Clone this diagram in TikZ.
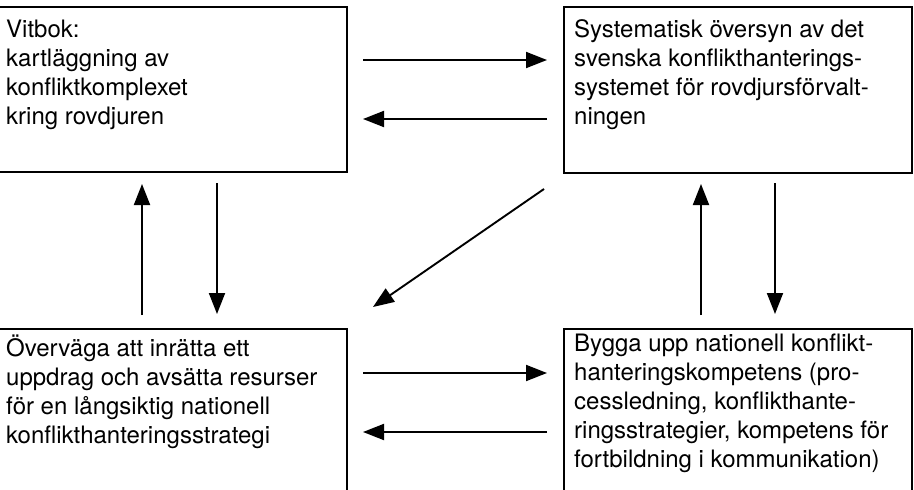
\documentclass[tikz,border=0pt]{standalone}
\usepackage{fontspec}
\setmainfont{TeX Gyre Heros}
\usetikzlibrary{arrows.meta}
\begin{document}
\begin{tikzpicture}[x=1pt,y=-1pt,
  box/.style={draw, line width=2.3pt, anchor=north west, inner sep=0pt},
  txt/.style={anchor=north west, inner sep=0pt, align=left, font=\fontsize{24}{29}\selectfont},
  arr/.style={line width=1.9pt, -{Triangle[length=21pt,width=16pt]}}]
\useasboundingbox (0,0) rectangle (914,490);
% boxes
\node[box, minimum width=351pt, minimum height=165pt] (A) at (-5,6) {};
\node[box, minimum width=348pt, minimum height=166pt] (B) at (563,6) {};
\node[box, minimum width=351pt, minimum height=180pt] (C) at (-5,328) {};
\node[box, minimum width=348pt, minimum height=180pt] (D) at (563,328) {};
% texts
\node[txt] (At) at (6,17) {\rule{0pt}{20pt}Vitbok:\\kartläggning av\\konfliktkomplexet\\kring rovdjuren};
\node[txt] (Bt) at (574,17) {\rule{0pt}{20pt}Systematisk översyn av det\\svenska konflikthanterings-\\systemet för rovdjursförvalt-\\ningen};
\node[txt] (Ct) at (6,335) {\rule{0pt}{20pt}Överväga att inrätta ett\\uppdrag och avsätta resurser\\för en långsiktig nationell\\konflikthanteringsstrategi};
\node[txt] (Dt) at (574,331) {\rule{0pt}{20pt}Bygga upp nationell konflikt-\\hanteringskompetens (pro-\\cessledning, konflikthante-\\ringsstrategier, kompetens för\\fortbildning i kommunikation)};
% arrow end points
\coordinate (h1s) at (363,60);  \coordinate (h1e) at (547,60);
\coordinate (h2s) at (547,119); \coordinate (h2e) at (363,119);
\coordinate (h3s) at (363,373); \coordinate (h3e) at (547,373);
\coordinate (h4s) at (547,432); \coordinate (h4e) at (363,432);
\coordinate (v1s) at (142,315); \coordinate (v1e) at (142,184);
\coordinate (v2s) at (217,183); \coordinate (v2e) at (217,314);
\coordinate (v3s) at (701,315); \coordinate (v3e) at (701,184);
\coordinate (v4s) at (775,183); \coordinate (v4e) at (775,314);
\coordinate (ds) at (544,189);  \coordinate (de) at (373,307);
% arrows
\draw[arr] (h1s) -- (h1e);
\draw[arr] (h2s) -- (h2e);
\draw[arr] (h3s) -- (h3e);
\draw[arr] (h4s) -- (h4e);
\draw[arr] (v1s) -- (v1e);
\draw[arr] (v2s) -- (v2e);
\draw[arr] (v3s) -- (v3e);
\draw[arr] (v4s) -- (v4e);
\draw[arr] (ds) -- (de);
\end{tikzpicture}
\end{document}
